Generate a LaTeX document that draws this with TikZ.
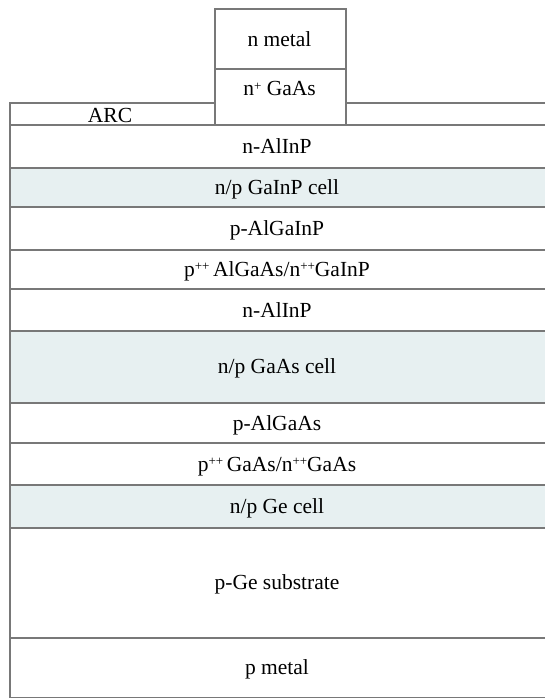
\documentclass[tikz,border=0pt]{standalone}
\usepackage{fontspec}
\setmainfont{Liberation Serif}
\definecolor{edge}{HTML}{787878}
\definecolor{cellfill}{HTML}{E7F0F1}
\tikzset{
  slab/.style={draw=edge, line width=2.4pt, fill=white, inner sep=0pt,
    anchor=north west, minimum width=545pt},
  cellslab/.style={slab, fill=cellfill},
  contact/.style={draw=edge, line width=2.4pt, fill=white, inner sep=0pt,
    anchor=north west, minimum width=131pt},
  lbl/.style={inner sep=0pt, text height=1.45ex, text depth=0.3ex}
}
\begin{document}
\begin{tikzpicture}[x=1pt, y=-1pt, font=\fontsize{21.5}{25}\selectfont]
  \useasboundingbox (0,0) rectangle (545,698);
  \clip (0,0) rectangle (545,698);
  \fill[white] (0,0) rectangle (545,698);

  % anti-reflection coating and the epitaxial stack
  \node[slab, minimum height=22pt] (arc) at (9,102) {};
  \node[slab, minimum height=43pt] (nalinp1) at (9,124) {};
  \node[cellslab, minimum height=39pt] (gainp) at (9,167) {};
  \node[slab, minimum height=43pt] (palgainp) at (9,206) {};
  \node[slab, minimum height=39pt] (tjone) at (9,249) {};
  \node[slab, minimum height=42pt] (nalinp2) at (9,288) {};
  \node[cellslab, minimum height=72pt] (gaas) at (9,330) {};
  \node[slab, minimum height=40pt] (palgaas) at (9,402) {};
  \node[slab, minimum height=42pt] (tjtwo) at (9,442) {};
  \node[cellslab, minimum height=43pt] (ge) at (9,484) {};
  \node[slab, minimum height=110pt] (sub) at (9,527) {};
  \node[slab, minimum height=60pt] (pmetal) at (9,637) {};

  % front contact
  \node[contact, minimum height=56pt] (ngaas) at (214,68) {};
  \node[contact, minimum height=60pt] (nmetal) at (214,8) {};

  % labels
  \newcommand{\spp}[1]{\raisebox{0.55ex}{\fontsize{13}{13}\selectfont #1}}
  \node[anchor=base, inner sep=0pt] (l-arc) at (110,122) {ARC};
  \node[lbl] (l-nalinp1) at (277,150.5) {n-AlInP};
  \node[lbl] (l-gainp) at (277,191.5) {n/p GaInP cell};
  \node[lbl] (l-palgainp) at (277,233) {p-AlGaInP};
  \node[lbl] (l-tjone) at (277,273.5) {p\spp{++}\,AlGaAs/n\spp{++}GaInP};
  \node[lbl] (l-nalinp2) at (277,314.5) {n-AlInP};
  \node[lbl] (l-gaas) at (277,371) {n/p GaAs cell};
  \node[lbl] (l-palgaas) at (277,427.5) {p-AlGaAs};
  \node[lbl] (l-tjtwo) at (277,468.5) {p\spp{++}\,GaAs/n\spp{++}GaAs};
  \node[lbl] (l-ge) at (277,510.5) {n/p Ge cell};
  \node[lbl] (l-sub) at (277,587) {p-Ge substrate};
  \node[lbl] (l-pmetal) at (277,672) {p metal};
  \node[lbl] (l-ngaas) at (279.5,93) {n\spp{+} GaAs};
  \node[lbl] (l-nmetal) at (279.5,43.5) {n metal};
\end{tikzpicture}
\end{document}
